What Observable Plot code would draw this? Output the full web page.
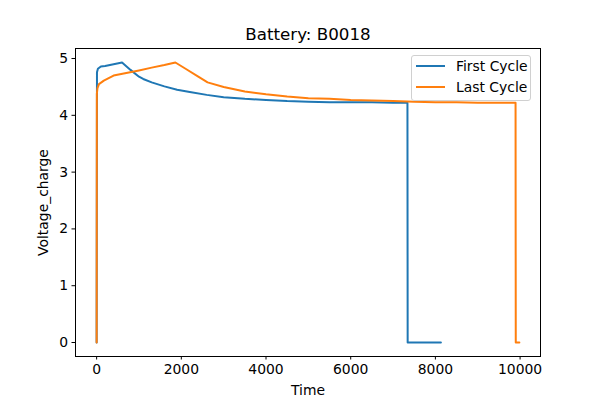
<!DOCTYPE html>
<html>
<head>
<meta charset="utf-8">
<script src="https://cdn.jsdelivr.net/npm/d3@7"></script>
<script src="https://cdn.jsdelivr.net/npm/@observablehq/plot@0.6"></script>
<style>
  body { margin: 0; background: #fff; }
  #wrap { position: relative; width: 600px; height: 400px; font-family: "DejaVu Sans", sans-serif; }
  #legend { position: absolute; left: 411px; top: 55px; width: 120px; height: 46px;
    border: 1px solid #d0d0d0; border-radius: 3px; background: rgba(255,255,255,0.8);
    font-size: 13.9px; color: #000; box-sizing: border-box; }
  .row { position: absolute; left: 4px; display: flex; align-items: center; }
  .sw { width: 29px; height: 2px; margin-right: 11px; }
</style>
</head>
<body>
<div id="wrap"></div>
<script>
const title = "Battery: B0018";
const xLabel = "Time";
const yLabel = "Voltage_charge";
const seriesNames = ["First Cycle", "Last Cycle"];
const seriesColors = ["#1f77b4", "#ff7f0e"];
const xTicks = [0, 2000, 4000, 6000, 8000, 10000];
const yTicks = [0, 1, 2, 3, 4, 5];

const time1 = [0, 8, 30, 100, 200, 400, 600, 800, 1000, 1100, 1300, 1600, 1900, 2200, 2600, 3000, 3500, 4000, 4500, 5000, 5500, 6000, 6500, 7000, 7340, 7345, 8130];
const volt1 = [0, 4.76, 4.82, 4.86, 4.87, 4.90, 4.93, 4.80, 4.68, 4.64, 4.58, 4.51, 4.45, 4.41, 4.36, 4.32, 4.29, 4.27, 4.25, 4.24, 4.23, 4.23, 4.23, 4.22, 4.22, 0, 0];

const time2 = [0, 5, 20, 55, 170, 400, 700, 1000, 1300, 1600, 1860, 2100, 2400, 2620, 3000, 3500, 4000, 4500, 5000, 5500, 6000, 6500, 7000, 7500, 8000, 8500, 9000, 9500, 9893, 9898, 9983];
const volt2 = [0, 4.38, 4.48, 4.55, 4.61, 4.70, 4.745, 4.79, 4.84, 4.885, 4.93, 4.82, 4.68, 4.58, 4.50, 4.42, 4.37, 4.33, 4.30, 4.29, 4.27, 4.26, 4.25, 4.24, 4.23, 4.23, 4.22, 4.22, 4.22, 0, 0];

const d1 = time1.map((t, i) => ({t, v: volt1[i]}));
const d2 = time2.map((t, i) => ({t, v: volt2[i]}));

const xs = time1.concat(time2), ys = volt1.concat(volt2);
const xmin = d3.min(xs), xmax = d3.max(xs), ymin = d3.min(ys), ymax = d3.max(ys);
const xm = (xmax - xmin) * 0.05, ym = (ymax - ymin) * 0.05;

const chart = Plot.plot({
  width: 600, height: 400,
  marginLeft: 75, marginRight: 60, marginTop: 48, marginBottom: 44,
  style: { fontFamily: "DejaVu Sans, sans-serif", fontSize: "13.9px", color: "#000", background: "#fff" },
  x: { domain: [xmin - xm, xmax + xm] },
  y: { domain: [ymin - ym, ymax + ym] },
  marks: [
    Plot.axisX({ ticks: xTicks, tickFormat: d => String(d), tickSize: 3.5, tickPadding: 4, label: xLabel, labelAnchor: "center", labelArrow: "none", labelOffset: 38 }),
    Plot.axisY({ ticks: yTicks, tickFormat: d => String(d), tickSize: 3.5, tickPadding: 4, label: yLabel, labelAnchor: "center", labelArrow: "none", labelOffset: 37 }),
    Plot.line(d1, { x: "t", y: "v", stroke: seriesColors[0], strokeWidth: 2 }),
    Plot.line(d2, { x: "t", y: "v", stroke: seriesColors[1], strokeWidth: 2 }),
    Plot.frame({ stroke: "#000", strokeWidth: 1 }),
    Plot.text([title], { frameAnchor: "top", dy: -14, fontSize: 16.7, lineAnchor: "middle" })
  ]
});

const wrap = document.getElementById("wrap");
wrap.appendChild(chart);
const legend = document.createElement("div");
legend.id = "legend";
seriesNames.forEach((name, i) => {
  const row = document.createElement("div");
  row.className = "row";
  row.style.top = (i === 0 ? 2 : 23) + "px";
  row.innerHTML = `<span class="sw" style="background:${seriesColors[i]}"></span><span>${name}</span>`;
  legend.appendChild(row);
});
wrap.appendChild(legend);
</script>
</body>
</html>
